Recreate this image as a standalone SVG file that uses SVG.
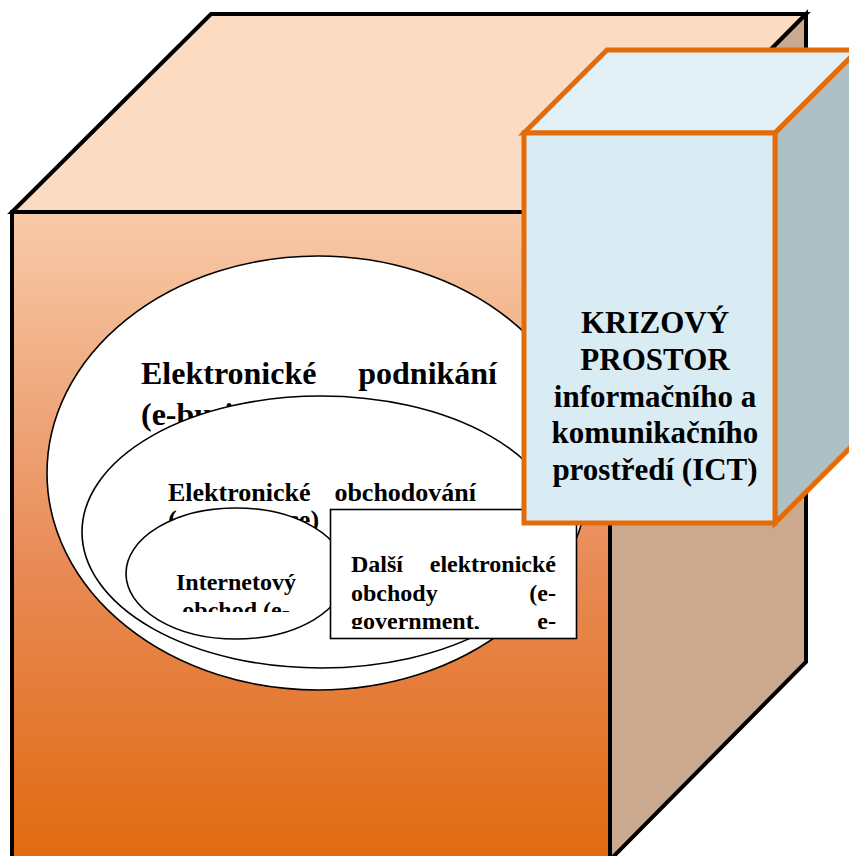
<svg xmlns="http://www.w3.org/2000/svg" width="849" height="856" viewBox="0 0 849 856">
<style>
.t{font-family:"Liberation Serif","Times New Roman",serif;font-weight:bold;fill:#000}
.ell{fill:#fff;stroke:#000;stroke-width:1.6}
.big{stroke:#000;stroke-width:4;stroke-linejoin:miter}
.small{stroke:#E36C0A;stroke-width:5;stroke-linejoin:miter}
</style>
<defs>
<linearGradient id="gFront" x1="0" y1="212" x2="0" y2="860" gradientUnits="userSpaceOnUse">
<stop offset="0" stop-color="#F8CAA9"/>
<stop offset="0.55" stop-color="#E88A55"/>
<stop offset="1" stop-color="#E06A10"/>
</linearGradient>
<clipPath id="cInner"><rect x="120" y="500" width="240" height="112"/></clipPath>
<clipPath id="cDalsi"><rect x="332" y="511" width="242" height="118"/></clipPath>
</defs>
<g id="bigCube">
<polygon class="big" points="12,212 211,14 806,14 610,212" fill="#FBDBC2"/>
<polygon class="big" points="610,212 806,14 806,662 610,860" fill="#CBA98F"/>
<rect class="big" x="12" y="212" width="598" height="648" fill="url(#gFront)"/>
</g>
<g id="ebusiness">
<ellipse class="ell" cx="318" cy="473" rx="271" ry="217"/>
<text class="t" font-size="32"><tspan x="141" y="384">Elektronické</tspan></text>
<text class="t" font-size="32" text-anchor="end" x="497" y="384">podnikání</text>
<text class="t" font-size="32" x="141" y="425">(e-business)</text>
</g>
<g id="ecommerce">
<ellipse class="ell" cx="321" cy="532" rx="239" ry="136"/>
<text class="t" font-size="26" x="168" y="501">Elektronické</text>
<text class="t" font-size="26" text-anchor="end" x="476" y="501">obchodování</text>
<text class="t" font-size="26" x="168" y="528">(e-commerce)</text>
</g>
<g id="internet">
<ellipse class="ell" cx="236" cy="573.5" rx="110" ry="65.5"/>
<g clip-path="url(#cInner)">
<text class="t" font-size="24" text-anchor="middle" x="236" y="590">Internetový</text>
<text class="t" font-size="24" text-anchor="middle" x="236" y="618">obchod (e-</text>
</g>
</g>
<g id="dalsi">
<rect x="330.5" y="509.5" width="246" height="129" fill="#fff" stroke="#000" stroke-width="1.6"/>
<g clip-path="url(#cDalsi)">
<text class="t" font-size="24" x="351" y="572">Další</text>
<text class="t" font-size="24" text-anchor="end" x="556" y="572">elektronické</text>
<text class="t" font-size="24" x="351" y="601">obchody</text>
<text class="t" font-size="24" text-anchor="end" x="556" y="601">(e-</text>
<text class="t" font-size="24" x="351" y="629">government,</text>
<text class="t" font-size="24" text-anchor="end" x="556" y="629">e-</text>
</g>
</g>
<g id="ict">
<polygon class="small" points="524,133 607,50 858,50 775,133" fill="#E0F0F6"/>
<polygon class="small" points="775,133 858,50 858,440 775,523" fill="#AEC0C4"/>
<rect class="small" x="524" y="133" width="251" height="390" fill="#DAECF3"/>
<g class="t" font-size="31" text-anchor="middle">
<text x="655" y="333">KRIZOVÝ</text>
<text x="655" y="370">PROSTOR</text>
<text x="655" y="407">informačního a</text>
<text x="655" y="443">komunikačního</text>
<text x="655" y="480">prostředí (ICT)</text>
</g>
</g>
<g id="connectors"></g>
</svg>
